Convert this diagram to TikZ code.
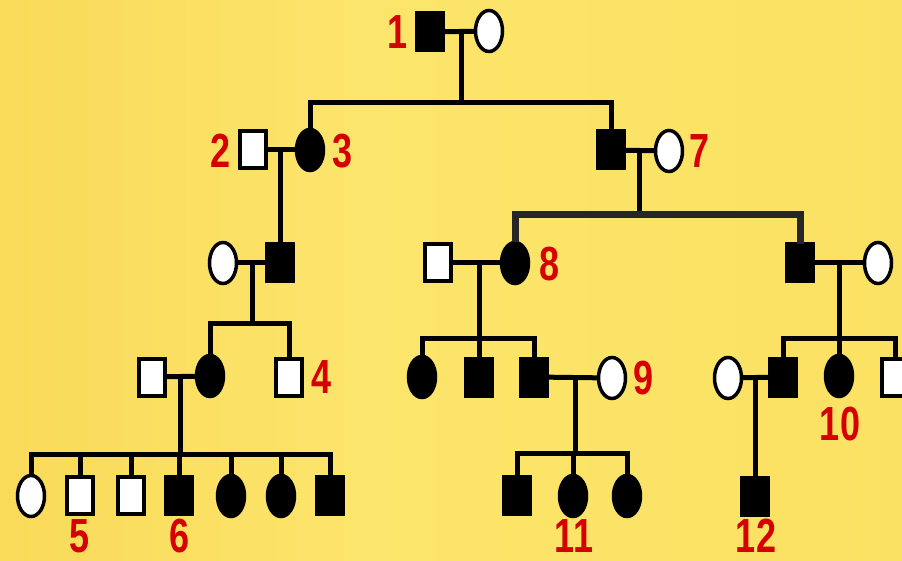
\documentclass[tikz,border=0pt]{standalone}
\usepackage{fontspec}
\setmainfont{Liberation Sans}
\usetikzlibrary{shapes.geometric}
\definecolor{labelred}{HTML}{D50000}
% horizontal backdrop: warm orange-yellow on the left, pale yellow elsewhere
\pgfdeclarehorizontalshading{backdrop}{100bp}{%
  color(0bp)=({rgb,255:red,245;green,194;blue,60});
  color(22bp)=({rgb,255:red,249;green,216;blue,86});
  color(45bp)=({rgb,255:red,252;green,229;blue,108});
  color(70bp)=({rgb,255:red,251;green,226;blue,100});
  color(100bp)=({rgb,255:red,250;green,222;blue,94})}
\tikzset{
  male/.style={rectangle, draw=black, line width=4pt, minimum width=26pt, minimum height=37pt, inner sep=0pt, outer sep=0pt},
  affm/.style={male, fill=black},
  unm/.style={male, fill=white},
  female/.style={ellipse, draw=black, line width=3.5pt, minimum width=27pt, minimum height=41pt, inner sep=0pt, outer sep=0pt},
  afff/.style={female, fill=black},
  unf/.style={female, fill=white},
  link/.style={draw=black, line width=5pt},
  thicklink/.style={draw=black!85, line width=7pt},
  lbl/.style={text=labelred, font=\fontsize{36}{36}\selectfont\bfseries, inner sep=0pt, yscale=1.33}
}
\begin{document}
\begin{tikzpicture}[x=1pt, y=-1pt]
\useasboundingbox (0,0) rectangle (902,561);
\clip (0,0) rectangle (902,561);
\shade[shading=backdrop] (0,0) rectangle (902,561);

% generation I
\node[affm] (p1) at (430,32) {};
\node[unf]  (w1) at (489,31) {};
% generation II
\node[unm]  (p2)  at (253,150) {};
\node[afff] (p3)  at (310,150) {};
\node[affm] (p7a) at (611,150) {};
\node[unf]  (p7)  at (669,151) {};
% generation III
\node[unf]  (c3a) at (223,263) {};
\node[affm] (s3a) at (280,263) {};
\node[unm]  (s8h) at (438,263) {};
\node[afff] (p8)  at (515,263) {};
\node[affm] (s7b) at (800,263) {};
\node[unf]  (w7b) at (878,263) {};
% generation IV
\node[unm]  (h4)  at (152,377) {};
\node[afff] (d4)  at (210,376) {};
\node[unm]  (p4)  at (289,377) {};
\node[afff] (d8a) at (422,377) {};
\node[affm] (s8b) at (479,377) {};
\node[affm] (s8c) at (534,377) {};
\node[unf]  (p9)  at (612,378) {};
\node[unf]  (w12) at (728,378) {};
\node[affm] (s10a) at (783,377) {};
\node[afff] (p10) at (839,376) {};
\node[unm]  (s10c) at (895,377) {};
% generation V
\node[unf]  (g1) at (31,496) {};
\node[unm]  (p5) at (80,495) {};
\node[unm]  (g3) at (131,495) {};
\node[affm] (p6) at (179,495) {};
\node[afff] (g5) at (231,496) {};
\node[afff] (g6) at (281,496) {};
\node[affm] (g7) at (330,495) {};
\node[affm] (g9a) at (517,495) {};
\node[afff] (p11) at (573,496) {};
\node[afff] (g9c) at (627,496) {};
\node[affm] (p12) at (755,496) {};

% marriage points and sibship junctions
\coordinate (m1) at (461,31);   \coordinate (j1) at (461,103);
\coordinate (m2) at (280,150);
\coordinate (m7) at (639,150);  \coordinate (j7) at (639,215);
\coordinate (m3) at (252,263);  \coordinate (j3) at (252,323);
\coordinate (m8) at (479,263);  \coordinate (j8) at (479,338);
\coordinate (mr) at (839,263);  \coordinate (jr) at (839,338);
\coordinate (m4) at (180,375);  \coordinate (j4) at (180,454);
\coordinate (m9) at (575,376);  \coordinate (j9) at (575,453);
\coordinate (m12) at (755,376);

% generation I family
\draw[link] (p1) -- (w1);
\draw[link] (m1) -- (j1);
\draw[link] (p3.north) |- (j1) -| (p7a.north);
% generation II families
\draw[link] (p2) -- (p3);
\draw[link] (m2) -- (s3a);
\draw[link] (p7a) -- (p7);
\draw[link] (m7) -- (j7);
\draw[thicklink] (p8.north) |- (j7) -| (s7b.north);
% generation III families
\draw[link] (c3a) -- (s3a);
\draw[link] (m3) -- (j3);
\draw[link] (d4.north) |- (j3) -| (p4.north);
\draw[link] (s8h) -- (p8);
\draw[link] (m8) -- (j8);
\draw[link] (d8a.north) |- (j8) -| (s8c.north);
\draw[link] (s8b) -- (j8);
\draw[link] (s7b) -- (w7b);
\draw[link] (mr) -- (jr);
\draw[link] (s10a.north) |- (jr) -| (s10c.north);
\draw[link] (p10) -- (jr);
% generation IV families
\draw[link] (h4) -- (d4);
\draw[link] (m4) -- (j4);
\draw[link] (g1.north) |- (j4) -| (g7.north);
\draw[link] (p5.north) |- (j4);
\draw[link] (g3.north) |- (j4);
\draw[link] (p6.north) |- (j4);
\draw[link] (g5.north) |- (j4);
\draw[link] (g6.north) |- (j4);
\draw[link] (s8c) -- (p9);
\draw[link] (m9) -- (j9);
\draw[link] (g9a.north) |- (j9) -| (g9c.north);
\draw[link] (p11.north) |- (j9);
\draw[link] (w12) -- (s10a);
\draw[link] (m12) -- (p12);

% individual numbers
\node[lbl] (l1)  at (398,32)  {1};
\node[lbl] (l2)  at (221,151) {2};
\node[lbl] (l3)  at (343,151) {3};
\node[lbl] (l7)  at (700,151) {7};
\node[lbl] (l8)  at (550,264) {8};
\node[lbl] (l4)  at (322,377) {4};
\node[lbl] (l9)  at (644,378) {9};
\node[lbl] (l10) at (840,424) {10};
\node[lbl] (l5)  at (80,536)  {5};
\node[lbl] (l6)  at (180,536) {6};
\node[lbl] (l11) at (574,536) {11};
\node[lbl] (l12) at (756,536) {12};
\end{tikzpicture}
\end{document}
